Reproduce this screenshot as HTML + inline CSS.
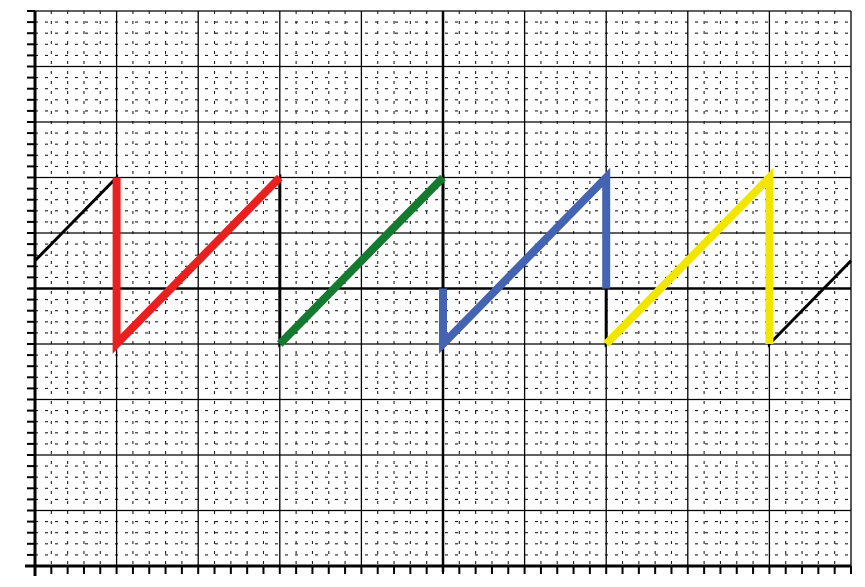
<!DOCTYPE html>
<html><head><meta charset="utf-8"><style>
html,body{margin:0;padding:0;background:#fff;width:865px;height:587px;overflow:hidden}
svg{display:block}
</style></head><body>
<svg id="chart" width="865" height="587" xmlns="http://www.w3.org/2000/svg"></svg>
<script>
const xTicks=[-5,-4,-3,-2,-1,0,1,2,3,4,5];
const yTicks=[5,4,3,2,1,0,-1,-2,-3,-4,-5];
const sawX=[-5,-4,-4,-2,-2,0,0,2,2,4,4,5];
const sawY=[0.5,2,-1,2,-1,2,-1,2,-1,2,-1,0.5];
const redX=[-4,-4,-2], redY=[2,-1,2];
const greenX=[-2,0], greenY=[-1,2];
const blueX=[0,0,2,2], blueY=[0,-1,2,0];
const yellowX=[2,4,4], yellowY=[-1,2,-1];
const X0=35,X1=851,Y0=11,Y1=566;
const sx=v=>X0+(v+5)/10*(X1-X0);
const sy=v=>Y0+(5-v)/10*(Y1-Y0);
const svg=document.getElementById('chart');
const NS='http://www.w3.org/2000/svg';
function mk(tag,attrs){const e=document.createElementNS(NS,tag);for(const k in attrs)e.setAttribute(k,attrs[k]);svg.appendChild(e);return e;}
for(let i=0;i<=50;i++){
  if(i%5===0)continue;
  const v=-5+i*0.2;
  const l=mk('line',{x1:sx(v),x2:sx(v),y1:Y0,y2:Y1,stroke:'#222','stroke-width':1.1,'stroke-dasharray':'3,7'});
  
  
  const h=mk('line',{x1:X0,x2:X1,y1:sy(v),y2:sy(v),stroke:'#222','stroke-width':1.1,'stroke-dasharray':'3,7'});
  
  
}
xTicks.forEach(v=>{
  const l=mk('line',{x1:sx(v),x2:sx(v),y1:Y0,y2:Y1+6,stroke:'#000','stroke-width':v===0?2.5:1.3});
  
  
});
yTicks.forEach(v=>{
  const l=mk('line',{x1:X0-6,x2:X1,y1:sy(v),y2:sy(v),stroke:'#000','stroke-width':v===0?2.5:1.3});
  
  
});
let la=mk('line',{x1:X0,x2:X0,y1:Y0,y2:Y1+10,stroke:'#000','stroke-width':3});


let ba=mk('line',{x1:X0-10,x2:X1,y1:Y1,y2:Y1,stroke:'#000','stroke-width':3});


for(let i=0;i<=50;i++){
  const v=-5+i*0.2;
  const t=mk('line',{x1:sx(v),x2:sx(v),y1:Y1,y2:Y1+8,stroke:'#000','stroke-width':2});
  
  
  const u=mk('line',{x1:X0-8,x2:X0,y1:sy(v),y2:sy(v),stroke:'#000','stroke-width':2});
  
  
}
function series(xs,ys,color,w,name){
  const p=mk('polyline',{points:xs.map((x,i)=>sx(x)+','+sy(ys[i])).join(' '),fill:'none',stroke:color,'stroke-width':w,'stroke-linejoin':'miter','stroke-linecap':'butt'});
  
  
}
series(sawX,sawY,'#000',3,'sawtooth-line');
series(redX,redY,'#e8201f',8,'red-segment');
series(greenX,greenY,'#137a2f',8,'green-segment');
series(blueX,blueY,'#4463b0',8,'blue-segment');
series(yellowX,yellowY,'#f2e500',8,'yellow-segment');
</script>
</body></html>
